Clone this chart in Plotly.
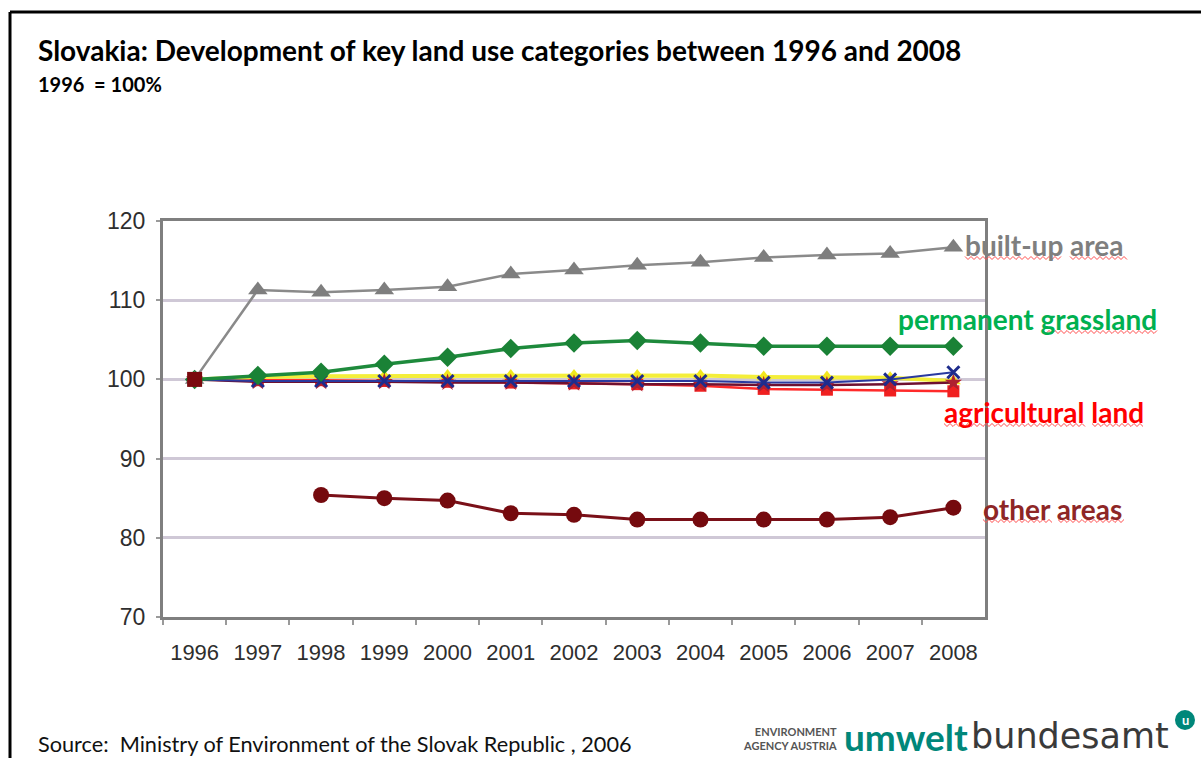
import plotly.graph_objects as go

# --- data -------------------------------------------------------------
years = ["1996", "1997", "1998", "1999", "2000", "2001", "2002",
         "2003", "2004", "2005", "2006", "2007", "2008"]

agricultural_land = [100, 99.9, 99.9, 99.8, 99.7, 99.6, 99.5, 99.4, 99.2, 98.8, 98.7, 98.6, 98.5]
arable_land = [100, 99.7, 99.7, 99.7, 99.6, 99.6, 99.5, 99.4, 99.4, 99.3, 99.3, 99.4, 99.6]
forest_land = [100, 100.3, 100.4, 100.4, 100.5, 100.5, 100.5, 100.5, 100.5, 100.3, 100.3, 100.2, 99.8]
water_areas = [100, 99.8, 99.8, 99.8, 99.8, 99.8, 99.8, 99.8, 99.8, 99.6, 99.6, 100.0, 100.9]
permanent_grassland = [100, 100.5, 100.9, 101.9, 102.8, 103.9, 104.6, 104.9, 104.6, 104.2, 104.2, 104.2, 104.2]
built_up_area = [100, 111.3, 111.0, 111.3, 111.7, 113.3, 113.8, 114.4, 114.8, 115.4, 115.7, 115.9, 116.7]
other_areas = [None, None, 85.4, 85.0, 84.7, 83.1, 82.9, 82.3, 82.3, 82.3, 82.3, 82.6, 83.8]

y_ticks = [70, 80, 90, 100, 110, 120]

title_text = "Slovakia: Development of key land use categories between 1996 and 2008"
subtitle_text = "1996  = 100%"
source_text = "Source:  Ministry of Environment of the Slovak Republic , 2006"

# --- layout helpers (pixel -> paper) ----------------------------------
W, H = 1201, 758


def px(x):
    return x / W


def py(y):
    return 1 - y / H


def squiggle(x0, x1, y, amp=1.5, step=3):
    """Thin wavy underline as an SVG path in paper coordinates."""
    pts = []
    x = x0
    up = True
    while x <= x1:
        pts.append((px(x), py(y - amp if up else y + amp)))
        up = not up
        x += step
    return "M " + " L ".join(f"{a:.5f},{b:.5f}" for a, b in pts)


fig = go.Figure()

fig.add_trace(go.Scatter(
    x=years, y=agricultural_land, name="agricultural land", mode="lines+markers",
    line=dict(color="#FF2A2A", width=2.5),
    marker=dict(symbol="square", size=12, color="#F02020")))

fig.add_trace(go.Scatter(
    x=years, y=forest_land, name="forest land", mode="lines+markers",
    line=dict(color="#F4EE3A", width=4),
    marker=dict(symbol="triangle-up", size=13, color="#F2E81E")))

fig.add_trace(go.Scatter(
    x=years, y=arable_land, name="arable land", mode="lines+markers",
    line=dict(color="#6E1030", width=2.5),
    marker=dict(symbol="star", size=13, color="#B02030")))

fig.add_trace(go.Scatter(
    x=years, y=water_areas, name="water areas", mode="lines+markers",
    line=dict(color="#2A3AA0", width=2),
    marker=dict(symbol="x-thin", size=12, line=dict(color="#1E2C8C", width=3))))

fig.add_trace(go.Scatter(
    x=years, y=permanent_grassland, name="permanent grassland", mode="lines+markers",
    line=dict(color="#1E8A3C", width=3.5),
    marker=dict(symbol="diamond", size=15, color="#1A8236")))

fig.add_trace(go.Scatter(
    x=years, y=built_up_area, name="built-up area", mode="lines+markers",
    line=dict(color="#8A8A8A", width=2.5),
    marker=dict(symbol="triangle-up", size=17, color="#7E7E7E")))

fig.add_trace(go.Scatter(
    x=years, y=other_areas, name="other areas", mode="lines+markers",
    line=dict(color="#7A1018", width=3),
    marker=dict(symbol="circle", size=16, color="#750A0E")))

# base-year marker on top of the bundle at 100
fig.add_trace(go.Scatter(
    x=years[:1], y=arable_land[:1], name="arable land", mode="markers",
    marker=dict(symbol="square", size=15, color="#7A0A0E")))

fig.update_layout(
    width=W, height=H,
    margin=dict(l=0, r=0, t=0, b=0),
    template="none",
    paper_bgcolor="white",
    plot_bgcolor="white",
    showlegend=False,
    font=dict(family="Liberation Sans, Arial, sans-serif", color="#333333"),
    xaxis=dict(
        type="category",
        domain=[px(163), px(985)],
        range=[-0.5, 12.5],
        tickson="boundaries",
        ticks="outside", ticklen=5, tickwidth=2, tickcolor="#9A9A9A",
        showgrid=False,
        showline=True, linecolor="#7F7F7F", linewidth=3, mirror=True,
        tickfont=dict(size=22, color="#2E2E2E"),
        ticklabelstandoff=14,
        automargin=False,
        zeroline=False,
    ),
    yaxis=dict(
        domain=[py(617), py(221)],
        range=[70, 120],
        tickvals=y_ticks,
        ticks="outside", ticklen=4, tickwidth=2, tickcolor="#9A9A9A",
        showgrid=True, gridcolor="#CFC8D6", gridwidth=2.5,
        showline=True, linecolor="#7F7F7F", linewidth=3, mirror=True,
        tickfont=dict(size=23, color="#2E2E2E"),
        ticklabelstandoff=6,
        automargin=False,
        zeroline=False,
    ),
)

annotations = [
    dict(text=f"<b>{title_text}</b>", x=px(36), y=py(50), xanchor="left", yanchor="middle",
         font=dict(family="Lato", size=28, color="#000000")),
    dict(text=f"<b>{subtitle_text}</b>", x=px(36), y=py(84), xanchor="left", yanchor="middle",
         font=dict(family="Lato", size=20, color="#000000")),
    dict(text=source_text, x=px(36), y=py(744), xanchor="left", yanchor="middle",
         font=dict(family="Lato", size=21.7, color="#111111")),
    dict(text="<b>built-up area</b>", x=px(963), y=py(245), xanchor="left", yanchor="middle",
         font=dict(family="Lato", size=28, color="#7F7F7F")),
    dict(text="<b>permanent grassland</b>", x=px(896), y=py(319), xanchor="left", yanchor="middle",
         font=dict(family="Lato", size=28, color="#00B050")),
    dict(text="<b>agricultural land</b>", x=px(942), y=py(412), xanchor="left", yanchor="middle",
         font=dict(family="Lato", size=28, color="#FF0000")),
    dict(text="<b>other areas</b>", x=px(981), y=py(509), xanchor="left", yanchor="middle",
         font=dict(family="Lato", size=28, color="#8E2626")),
    # agency logo
    dict(text="<b>ENVIRONMENT<br>AGENCY AUSTRIA</b>", x=px(839), y=py(738), xanchor="right",
         yanchor="middle", align="right",
         font=dict(family="Lato", size=11, color="#555555")),
    dict(text="<b>umwelt</b>", x=px(842), y=py(736), xanchor="left", yanchor="middle",
         font=dict(family="Lato", size=37, color="#00877A")),
    dict(text="bundesamt", x=px(969), y=py(736), xanchor="left", yanchor="middle",
         font=dict(family="DejaVu Sans", size=35, color="#3A3A3A")),
    dict(text="<b>u</b>", x=px(1185), y=py(720), xanchor="center", yanchor="middle",
         font=dict(family="Lato", size=13, color="white")),
]
for a in annotations:
    a.update(xref="paper", yref="paper", showarrow=False)
fig.update_layout(annotations=annotations)

wavy = dict(color="#FF5050", width=1)
shapes = [
    # outer frame (top and left edges)
    dict(type="line", xref="paper", yref="paper", x0=px(10), x1=1, y0=py(12), y1=py(12),
         line=dict(color="black", width=3)),
    dict(type="line", xref="paper", yref="paper", x0=px(10), x1=px(10), y0=py(12), y1=0,
         line=dict(color="black", width=3)),
    # logo badge
    dict(type="circle", xref="paper", yref="paper", x0=px(1175), x1=px(1195),
         y0=py(730), y1=py(710), fillcolor="#00877A", line=dict(width=0)),
    # spelling underlines beneath the series labels
    dict(type="path", xref="paper", yref="paper", path=squiggle(965, 1063, 258), line=wavy),
    dict(type="path", xref="paper", yref="paper", path=squiggle(1070, 1127, 258), line=wavy),
    dict(type="path", xref="paper", yref="paper", path=squiggle(1043, 1158, 332), line=wavy),
    dict(type="path", xref="paper", yref="paper", path=squiggle(944, 1087, 425), line=wavy),
    dict(type="path", xref="paper", yref="paper", path=squiggle(1092, 1145, 425), line=wavy),
    dict(type="path", xref="paper", yref="paper", path=squiggle(983, 1053, 521), line=wavy),
    dict(type="path", xref="paper", yref="paper", path=squiggle(1058, 1124, 521), line=wavy),
]
fig.update_layout(shapes=shapes)

fig.write_html("out.html")
